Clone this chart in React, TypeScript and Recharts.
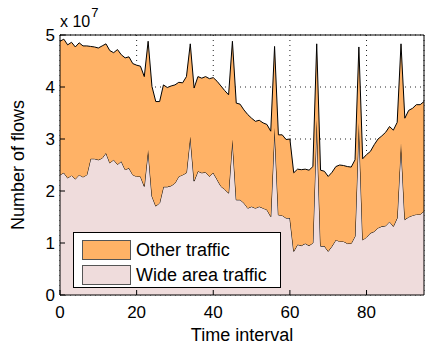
import { AreaChart, Area, XAxis, YAxis, CartesianGrid, Legend } from "recharts";

// flows per time interval, in units of 10^7
const wideArea = [
  2.31, 2.35, 2.25, 2.3, 2.23, 2.31, 2.27, 2.31, 2.62, 2.62,
  2.6, 2.63, 2.73, 2.54, 2.6, 2.51, 2.57, 2.41, 2.44, 2.31,
  2.28, 2.28, 2.09, 2.79, 1.9, 1.71, 1.77, 2.08, 2.08, 2.1,
  2.15, 2.28, 2.31, 2.35, 3.05, 2.19, 2.38, 2.35, 2.36, 2.28,
  2.35, 2.22, 2.09, 2.03, 1.96, 2.99, 1.83, 1.83, 1.77, 1.67,
  1.7, 1.67, 1.7, 1.67, 1.64, 1.51, 3.21, 1.54, 1.53, 1.48,
  1.48, 0.84, 0.97, 0.95, 0.99, 0.95, 1.0, 3.37, 0.94, 0.94,
  0.84, 0.94, 1.06, 1.03, 1.03, 0.99, 0.99, 1.13, 3.31, 1.06,
  1.11, 1.19, 1.22, 1.29, 1.32, 1.33, 1.41, 1.32, 1.48, 2.92,
  1.45, 1.5, 1.53, 1.55, 1.55, 1.61,
];

const otherTraffic = [
  2.57, 2.57, 2.56, 2.56, 2.54, 2.54, 2.52, 2.48, 2.16, 2.15,
  2.15, 2.16, 2.1, 2.16, 2.06, 2.21, 2.05, 2.15, 2.14, 2.14,
  2.14, 2.12, 2.11, 2.09, 2.11, 2.01, 1.95, 1.96, 1.91, 1.92,
  1.89, 1.81, 1.77, 1.85, 1.78, 1.79, 1.82, 1.82, 1.84, 1.88,
  1.83, 1.89, 1.93, 1.9, 1.89, 1.89, 1.86, 1.84, 1.79, 1.8,
  1.7, 1.67, 1.66, 1.64, 1.64, 1.64, 1.57, 1.54, 1.55, 1.51,
  1.52, 1.51, 1.45, 1.46, 1.43, 1.45, 1.47, 1.46, 1.46, 1.44,
  1.44, 1.42, 1.41, 1.47, 1.46, 1.48, 1.47, 1.47, 1.46, 1.56,
  1.59, 1.57, 1.67, 1.71, 1.74, 1.8, 1.83, 1.85, 1.84, 1.91,
  1.95, 2.05, 2.06, 2.11, 2.11, 2.11,
];

const xTicks = [0, 20, 40, 60, 80];
const yTicks = [0, 1, 2, 3, 4, 5];
const X_MAX = 95;
const Y_MAX = 5;

const ORANGE = "#FFB266";
const PINK = "#EFDCDC";
const FONT = '"Liberation Sans", Arial, Helvetica, sans-serif';

const MARGIN = { top: 35, right: 1, bottom: 0, left: 0 };
const Y_AXIS_W = 60;
const X_AXIS_H = 49;
const WIDTH = 425;
const HEIGHT = 344;

const legendItems = [
  { name: "Other traffic", color: ORANGE },
  { name: "Wide area traffic", color: PINK },
];

const chartData = wideArea.map((wide, i) => ({
  t: i,
  wide,
  other: otherTraffic[i],
}));

function YTitle({ viewBox }: any) {
  const x = viewBox.x + 18;
  const y = viewBox.y + viewBox.height / 2;
  return (
    <text
      x={x}
      y={y}
      transform={`rotate(-90 ${x} ${y})`}
      textAnchor="middle"
      dominantBaseline="central"
      fontSize={18}
      fill="#000"
    >
      Number of flows
    </text>
  );
}

function XTitle({ viewBox }: any) {
  return (
    <text
      x={viewBox.x + viewBox.width / 2}
      y={viewBox.y + 46}
      textAnchor="middle"
      fontSize={18}
      fill="#000"
    >
      Time interval
    </text>
  );
}

function FlowLegend() {
  return (
    <div
      style={{
        width: 208,
        height: 56,
        boxSizing: "border-box",
        border: "1px solid #000",
        background: "#fff",
        padding: "4px 0 0 8px",
        fontFamily: FONT,
      }}
    >
      {legendItems.map((item) => (
        <div
          key={item.name}
          style={{ display: "flex", alignItems: "center", height: 25.5 }}
        >
          <span
            style={{
              width: 49,
              height: 20,
              boxSizing: "border-box",
              background: item.color,
              border: "1px solid #555",
            }}
          />
          <span style={{ marginLeft: 5, fontSize: 18, lineHeight: 1, color: "#000" }}>
            {item.name}
          </span>
        </div>
      ))}
    </div>
  );
}

// 上と右の枠線 (SVG内に描画)
function PlotFrame({ offset }: any) {
  if (!offset) return null;
  const x0 = offset.left;
  const y0 = offset.top;
  const x1 = offset.left + offset.width;
  const y1 = offset.top + offset.height;
  return (
    <path
      d={`M${x0},${y0}H${x1}V${y1}`}
      fill="none"
      stroke="#000"
      strokeWidth={1}
    />
  );
}

export default function App() {
  return (
    <div style={{ position: "absolute", left: 0, top: 0, width: WIDTH, height: HEIGHT, background: "#fff" }}>
      <AreaChart
        width={WIDTH}
        height={HEIGHT}
        data={chartData}
        margin={MARGIN}
        style={{ fontFamily: FONT }}
      >
        <CartesianGrid stroke="#222" strokeDasharray="1 4" />
        <Area
          type="linear"
          dataKey="wide"
          name="Wide area traffic"
          stackId="flows"
          stroke="#000"
          strokeWidth={1}
          fill={PINK}
          fillOpacity={1}
          dot={false}
          activeDot={false}
          isAnimationActive={false}
        />
        <Area
          type="linear"
          dataKey="other"
          name="Other traffic"
          stackId="flows"
          stroke="#000"
          strokeWidth={1}
          fill={ORANGE}
          fillOpacity={1}
          dot={false}
          activeDot={false}
          isAnimationActive={false}
        />
        <XAxis
          dataKey="t"
          type="number"
          domain={[0, X_MAX]}
          ticks={xTicks}
          height={X_AXIS_H}
          stroke="#000"
          tickSize={-5}
          tickMargin={16}
          tick={{ fontSize: 17, fill: "#000" }}
          label={<XTitle />}
        />
        <YAxis
          type="number"
          domain={[0, Y_MAX]}
          ticks={yTicks}
          width={Y_AXIS_W}
          stroke="#000"
          tickSize={-5}
          tickMargin={10}
          tick={{ fontSize: 17, fill: "#000" }}
          label={<YTitle />}
        />
        <Legend
          layout="vertical"
          align="center"
          verticalAlign="middle"
          content={() => <FlowLegend />}
          wrapperStyle={{ left: 73, top: 232, width: 208 }}
        />
      </AreaChart>
      <svg
        width={WIDTH}
        height={HEIGHT}
        style={{ position: "absolute", left: 0, top: 0, pointerEvents: "none" }}
      >
        <PlotFrame
          offset={{
            left: MARGIN.left + Y_AXIS_W,
            top: MARGIN.top,
            width: WIDTH - MARGIN.left - Y_AXIS_W - MARGIN.right,
            height: HEIGHT - MARGIN.top - MARGIN.bottom - X_AXIS_H,
          }}
        />
      </svg>
      <div
        style={{
          position: "absolute",
          left: 60,
          top: 14,
          fontFamily: FONT,
          fontSize: 16,
          lineHeight: 1,
          color: "#000",
          whiteSpace: "nowrap",
        }}
      >
        x 10
        <span style={{ fontSize: 13, position: "relative", top: -10, marginLeft: 1 }}>7</span>
      </div>
    </div>
  );
}
